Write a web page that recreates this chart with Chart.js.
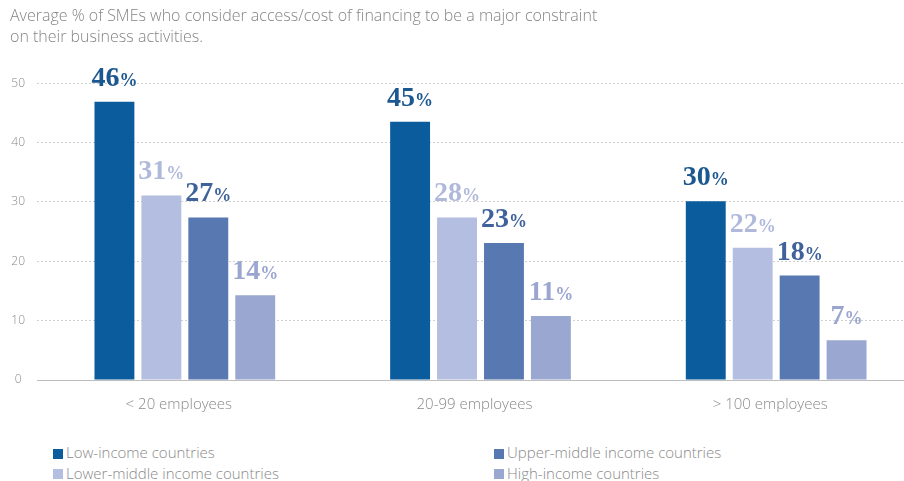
<!DOCTYPE html>
<html>
<head>
<meta charset="utf-8">
<script src="https://cdn.jsdelivr.net/npm/chart.js@4/dist/chart.umd.min.js"></script>
<style>
  html, body { margin: 0; padding: 0; background: #fff; overflow: hidden; }
  #wrap { position: relative; width: 924px; height: 428px; }
  #legend { position: absolute; left: 53px; top: 443px; width: 850px; font-family: "Open Sans", sans-serif; font-weight: 300; font-size: 15px; color: #8a8a8a; }
  #legend .item { position: absolute; white-space: nowrap; line-height: 18px; }
  #legend .box { display: inline-block; width: 10px; height: 10px; margin-right: 3px; vertical-align: -0.5px; }
</style>
</head>
<body>
<div id="wrap"><canvas id="chart"></canvas></div>
<div id="legend"></div>
<script>
// data
var categories = ['< 20 employees', '20-99 employees', '> 100 employees']
var lowIncome = [46.9, 43.5, 30.1]
var lowerMiddle = [31.1, 27.4, 22.3]
var upperMiddle = [27.4, 23.1, 17.6]
var highIncome = [14.3, 10.8, 6.7]
// the printed percentages above the bars
var lowIncomePct = [46, 45, 30]
var lowerMiddlePct = [31, 28, 22]
var upperMiddlePct = [27, 23, 18]
var highIncomePct = [14, 11, 7]
var yTicks = [0, 10, 20, 30, 40, 50]

var barColors = ['#0b5c9d', '#b4bee0', '#5778b1', '#99a7d1']
var labelColors = ['#1c5890', '#b0b9da', '#3f629b', '#9aa6cf']
var sans = '"Open Sans", Lato, sans-serif'

var ds = [
  {label: 'Low-income countries', data: lowIncome, pct: lowIncomePct},
  {label: 'Lower-middle income countries', data: lowerMiddle, pct: lowerMiddlePct},
  {label: 'Upper-middle income countries', data: upperMiddle, pct: upperMiddlePct},
  {label: 'High-income countries', data: highIncome, pct: highIncomePct}
]
ds.forEach(function (d, i) {
  d.backgroundColor = barColors[i]
  d.labelColor = labelColors[i]
  d.barPercentage = 0.85
  d.categoryPercentage = 0.635
})

// value labels: bold serif number with a smaller % sign
var pctLabels = {
  id: 'pctLabels',
  afterDatasetsDraw: function (chart) {
    var ctx = chart.ctx
    var bigFont = 'bold 28px "Liberation Serif", serif'
    var smallFont = 'bold 18px "Liberation Serif", serif'
    ctx.save()
    chart.data.datasets.forEach(function (d, i) {
      var meta = chart.getDatasetMeta(i)
      meta.data.forEach(function (bar, j) {
        var num = String(d.pct[j])
        ctx.font = bigFont
        var w1 = ctx.measureText(num).width
        ctx.font = smallFont
        var w2 = ctx.measureText('%').width
        var x0 = bar.x - (w1 + w2) / 2
        var yb = bar.y - 16
        ctx.fillStyle = d.labelColor
        ctx.textBaseline = 'alphabetic'
        ctx.textAlign = 'left'
        ctx.font = bigFont
        ctx.fillText(num, x0, yb)
        ctx.font = smallFont
        ctx.fillText('%', x0 + w1, yb)
      })
    })
    ctx.restore()
  }
}

var config = {
  type: 'bar',
  data: {labels: categories, datasets: ds},
  options: {
    responsive: true,
    maintainAspectRatio: false,
    animation: false,
    layout: {padding: {left: 10, right: 0, top: 0, bottom: 0}},
    plugins: {
      legend: {display: false},
      tooltip: {enabled: false},
      title: {
        display: true,
        align: 'start',
        text: ['Average % of SMEs who consider access/cost of financing to be a major constraint',
               'on their business activities.'],
        color: '#858585',
        font: {family: sans, size: 16, weight: 300, lineHeight: 1.32},
        padding: {top: 6, bottom: 35}
      }
    },
    scales: {
      x: {
        grid: {display: false},
        border: {display: true, color: '#bdbdbd', width: 1},
        ticks: {color: '#8a8a8a', padding: 8, labelOffset: -6, font: {family: sans, size: 15, weight: 300}},
        afterFit: function (s) { s.height = 48 }
      },
      y: {
        min: 0,
        max: 50,
        afterBuildTicks: function (s) { s.ticks = yTicks.map(function (v) { return {value: v} }) },
        grid: {color: '#cfcfcf', drawTicks: false},
        border: {display: false, dash: [2, 2]},
        ticks: {color: '#8a8a8a', padding: 12, crossAlign: 'center', font: {family: sans, size: 12, weight: 300}},
        afterFit: function (s) { s.width = 27 }
      }
    }
  },
  plugins: [pctLabels]
}

var myChart = new Chart(document.getElementById('chart'), config)

// two column legend built from the datasets
var legendOrder = [0, 2, 1, 3]
var legendPos = [[0, 0], [441, 0], [0, 20.5], [441, 20.5]]
var lg = document.getElementById('legend')
legendOrder.forEach(function (di, k) {
  var d = myChart.data.datasets[di]
  var el = document.createElement('div')
  el.className = 'item'
  el.style.left = legendPos[k][0] + 'px'
  el.style.top = legendPos[k][1] + 'px'
  el.innerHTML = '<span class="box" style="background:' + d.backgroundColor + '"></span>' + d.label
  lg.appendChild(el)
})
</script>
</body>
</html>
